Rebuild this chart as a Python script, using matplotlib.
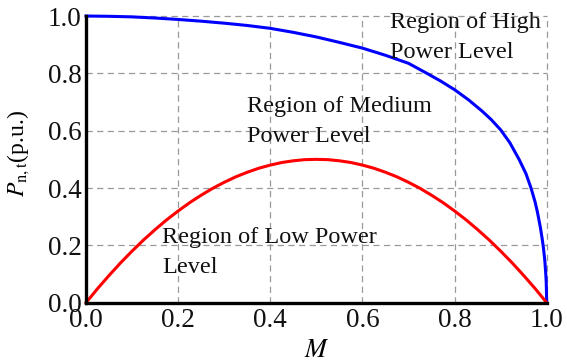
import matplotlib
matplotlib.use("Agg")
import matplotlib.pyplot as plt

plt.rcParams["font.family"] = ["Liberation Serif", "DejaVu Serif"]
plt.rcParams["mathtext.fontset"] = "stix"

# upper boundary (high / medium power)
m_high = [0.0, 0.05, 0.1, 0.15, 0.2, 0.25, 0.3, 0.35, 0.4, 0.45, 0.5, 0.55,
          0.6, 0.65, 0.7, 0.74, 0.77, 0.8, 0.83, 0.86, 0.88, 0.9, 0.92, 0.94,
          0.955, 0.966, 0.975, 0.98, 0.986, 0.99, 0.993, 0.996, 0.998, 0.999, 1.0]
p_high = [1.0, 0.999, 0.997, 0.993, 0.988, 0.982, 0.975, 0.967, 0.957, 0.943,
          0.927, 0.908, 0.888, 0.863, 0.835, 0.80, 0.773, 0.743, 0.708, 0.668,
          0.638, 0.603, 0.558, 0.50, 0.45, 0.40, 0.35, 0.315, 0.265, 0.225,
          0.19, 0.145, 0.10, 0.07, 0.0]

# lower boundary (low / medium power)
m_low = [0.0, 0.025, 0.05, 0.075, 0.1, 0.125, 0.15, 0.175, 0.2, 0.225, 0.25,
         0.275, 0.3, 0.325, 0.35, 0.375, 0.4, 0.425, 0.45, 0.475, 0.5, 0.525,
         0.55, 0.575, 0.6, 0.625, 0.65, 0.675, 0.7, 0.725, 0.75, 0.775, 0.8,
         0.825, 0.85, 0.875, 0.9, 0.925, 0.95, 0.975, 1.0]
p_low = [0.0, 0.049, 0.095, 0.139, 0.18, 0.219, 0.255, 0.289, 0.32, 0.349,
         0.375, 0.399, 0.42, 0.439, 0.455, 0.469, 0.48, 0.489, 0.495, 0.499,
         0.5, 0.499, 0.495, 0.489, 0.48, 0.469, 0.455, 0.439, 0.42, 0.399,
         0.375, 0.349, 0.32, 0.289, 0.255, 0.219, 0.18, 0.139, 0.095, 0.049, 0.0]

ticks = [0.0, 0.2, 0.4, 0.6, 0.8, 1.0]
tick_labels = ["0.0", "0.2", "0.4", "0.6", "0.8", "1.0"]

fig = plt.figure(figsize=(5.67, 3.64), dpi=100)
ax = fig.add_axes([0.1517, 0.1684, 0.8125, 0.7876])

ax.plot(m_high, p_high, color="#0000ff", lw=2.2, clip_on=False, zorder=3)
ax.plot(m_low, p_low, color="#ff0000", lw=2.2, clip_on=False, zorder=3)

ax.set_xlim(0, 1)
ax.set_ylim(0, 1)
ax.set_xticks(ticks)
ax.set_yticks(ticks)
ax.set_xticklabels(tick_labels)
ax.set_yticklabels(tick_labels)
ax.tick_params(length=0, labelsize=19.5, colors="#111111")
ax.tick_params(axis="x", pad=4)
ax.tick_params(axis="y", pad=3)

ax.grid(True, color="#999999", linestyle=(0, (5, 3.5)), linewidth=0.9)
for gl in ax.get_xgridlines() + ax.get_ygridlines():
    gl.set_clip_on(False)

for side in ["top", "right"]:
    ax.spines[side].set_visible(False)
for side in ["left", "bottom"]:
    ax.spines[side].set_linewidth(2.4)
    ax.spines[side].set_color("black")
    ax.spines[side].set_zorder(4)

ax.set_xlabel("$M$", fontsize=19, labelpad=5)
ax.set_ylabel(r"$P_{\mathrm{n,t}}$(p.u.)", fontsize=17)
ax.yaxis.set_label_coords(-0.118, 0.52)

def region_label(x, y1, y2, line1, line2):
    ax.text(x, y1, line1, fontsize=17.5, color="#111111", va="baseline")
    ax.text(x, y2, line2, fontsize=17.5, color="#111111", va="baseline")

region_label(0.66, 0.958, 0.853, "Region of High", "Power Level")
region_label(0.349, 0.665, 0.56, "Region of Medium", "Power Level")
region_label(0.165, 0.208, 0.104, "Region of Low Power", "Level")

fig.savefig("out.png", dpi=100)
